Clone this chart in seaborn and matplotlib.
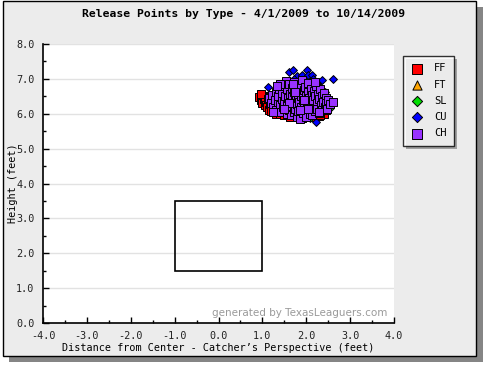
import matplotlib
matplotlib.use("Agg")
import matplotlib.pyplot as plt
import seaborn as sns
from matplotlib.patches import Rectangle
from matplotlib.ticker import MultipleLocator

# release points (feet)
ff_x = [0.93, 0.97, 1.00, 1.03, 1.05, 1.08, 1.10, 1.12, 1.15, 1.18, 1.20, 1.05, 0.98, 1.13,
        1.30, 1.40, 1.50, 1.62, 1.72, 1.80, 1.90, 2.00, 2.10, 2.20, 2.28, 2.35, 2.40, 2.45,
        2.30, 1.55, 1.35, 1.85, 2.15, 1.65, 1.95, 2.10, 2.43, 2.31]
ff_y = [6.48, 6.38, 6.32, 6.42, 6.25, 6.35, 6.18, 6.50, 6.12, 6.28, 6.08, 6.48, 6.56, 6.41,
        6.00, 5.98, 5.95, 5.92, 5.98, 5.95, 5.88, 5.98, 5.90, 6.00, 5.93, 6.05, 5.98, 6.10,
        6.15, 6.08, 6.15, 6.05, 6.05, 6.50, 6.60, 6.45, 6.11, 5.96]

ft_x = [1.84, 1.95]
ft_y = [5.96, 6.00]

sl_x = [2.53, 2.09, 2.47]
sl_y = [6.17, 5.88, 6.25]

cu_x = [1.13, 1.33, 1.48, 1.61, 1.69, 1.78, 1.90, 2.01, 2.05, 2.12, 2.16, 2.24, 2.35, 2.62,
        2.43, 2.45, 2.22, 1.78, 1.93, 1.50, 1.72, 2.08, 1.64, 1.45, 2.30, 1.85, 2.20]
cu_y = [6.76, 6.80, 6.87, 7.21, 7.25, 7.08, 7.11, 7.25, 7.11, 7.11, 6.99, 6.87, 6.97, 6.99,
        6.63, 6.40, 5.77, 6.92, 6.95, 6.82, 7.00, 6.90, 6.95, 6.70, 6.80, 6.98, 6.75]

ch_x = [1.15, 1.20, 1.22, 1.25, 1.28, 1.30, 1.32, 1.35, 1.36, 1.38, 1.40, 1.42, 1.44, 1.45,
        1.47, 1.48, 1.50, 1.52, 1.53, 1.55, 1.56, 1.57, 1.58, 1.60, 1.61, 1.62, 1.63, 1.65,
        1.66, 1.67, 1.68, 1.70, 1.71, 1.72, 1.73, 1.74, 1.75, 1.76, 1.78, 1.79, 1.80, 1.81,
        1.82, 1.84, 1.85, 1.86, 1.87, 1.88, 1.89, 1.90, 1.92, 1.93, 1.94, 1.95, 1.97, 1.98,
        1.99, 2.00, 2.01, 2.03, 2.04, 2.05, 2.07, 2.08, 2.10, 2.11, 2.12, 2.14, 2.15, 2.16,
        2.18, 2.19, 2.21, 2.22, 2.24, 2.25, 2.27, 2.28, 2.30, 2.32, 2.33, 2.35, 2.37, 2.38,
        2.40, 2.42, 2.44, 2.46, 2.48, 2.50, 2.55, 2.60, 1.60, 1.75, 1.95, 2.05, 1.85, 1.70,
        2.20, 1.50, 1.40, 2.30, 1.25, 1.33]
ch_y = [6.45, 6.30, 6.55, 6.20, 6.40, 6.62, 6.10, 6.35, 6.50, 6.72, 6.25, 6.05, 6.42, 6.60,
        6.80, 6.18, 6.33, 6.52, 6.95, 6.00, 6.70, 6.25, 6.45, 6.12, 6.85, 6.38, 6.58, 5.95,
        6.22, 6.48, 6.75, 6.30, 6.05, 6.62, 6.90, 6.40, 6.15, 6.55, 5.90, 6.28, 6.70, 6.45,
        6.08, 6.35, 6.82, 5.85, 6.60, 6.20, 6.50, 6.98, 6.02, 6.40, 6.68, 6.25, 6.78, 6.12,
        6.52, 5.92, 6.35, 6.62, 6.18, 6.88, 6.45, 6.00, 6.30, 6.72, 6.55, 5.95, 6.22, 6.40,
        6.65, 6.08, 6.50, 6.80, 6.30, 6.15, 6.58, 6.02, 6.42, 6.70, 6.25, 6.52, 6.12, 6.35,
        6.60, 6.20, 6.45, 6.32, 6.15, 6.40, 6.28, 6.35, 6.30, 6.62, 6.40, 6.15, 6.10, 6.85,
        6.90, 6.15, 6.85, 6.05, 6.05, 6.80]

# strike zone
zone_x = [-1.0, 1.0]
zone_y = [1.5, 3.5]

W, H = 488, 367
fig = plt.figure(figsize=(W / 100, H / 100), dpi=100, facecolor="white")
mono = "DejaVu Sans Mono"

# grey panel with black border and drop shadow
fig.patches.append(Rectangle((9 / W, 1 - 362 / H), 474 / W, 355 / H, transform=fig.transFigure,
                             facecolor="#858585", edgecolor="none", zorder=-2))
fig.patches.append(Rectangle((3 / W, 1 - 356 / H), 473 / W, 355.5 / H, transform=fig.transFigure,
                             facecolor="#ececec", edgecolor="black", linewidth=1.0, zorder=-1))

ax = fig.add_axes([43 / W, 1 - 323 / H, 351 / W, 279 / H])
ax.set_facecolor("white")

series = [
    ("FF", ff_x, ff_y, "s", "#ff0000", 26),
    ("FT", ft_x, ft_y, "^", "#ffa500", 26),
    ("SL", sl_x, sl_y, "D", "#00dd00", 16),
    ("CU", cu_x, cu_y, "D", "#0000ff", 16),
    ("CH", ch_x, ch_y, "s", "#9933ff", 26),
]
for name, xs, ys, mk, col, sz in series:
    sns.scatterplot(x=xs, y=ys, marker=mk, color=col, s=sz, edgecolor="black",
                    linewidth=0.7, label=name, ax=ax, zorder=3)

ax.add_patch(Rectangle((zone_x[0], zone_y[0]), zone_x[1] - zone_x[0], zone_y[1] - zone_y[0],
                       fill=False, edgecolor="black", linewidth=1.2, zorder=2))

ax.set_xlim(-4, 4)
ax.set_ylim(0, 8)
ax.xaxis.set_major_locator(MultipleLocator(1))
ax.xaxis.set_minor_locator(MultipleLocator(0.5))
ax.yaxis.set_major_locator(MultipleLocator(1))
ax.yaxis.set_minor_locator(MultipleLocator(0.5))
ax.xaxis.set_major_formatter(plt.FormatStrFormatter("%.1f"))
ax.yaxis.set_major_formatter(plt.FormatStrFormatter("%.1f"))
ax.grid(axis="y", which="major", color="#e2e2e2", linewidth=1.0, zorder=0)
ax.set_axisbelow(True)
for side in ["top", "right"]:
    ax.spines[side].set_visible(False)
for side in ["left", "bottom"]:
    ax.spines[side].set_linewidth(1.2)
ax.tick_params(which="major", direction="in", length=4.5, width=1, labelsize=7.3, pad=6)
ax.tick_params(which="minor", direction="in", length=2.5, width=1)
for lab in ax.get_xticklabels() + ax.get_yticklabels():
    lab.set_family(mono)
    lab.set_color("#222222")

ax.set_xlabel("Distance from Center - Catcher\u2019s Perspective (feet)", family=mono,
              fontsize=7.3)
ax.set_ylabel("Height (feet)", family=mono, fontsize=7.3)
ax.xaxis.set_label_coords(0.5, -(348 - 323) / 279)
ax.yaxis.set_label_coords((13 - 43) / 351, 0.5)
ax.xaxis.label.set_va("center")
ax.yaxis.label.set_va("center")
fig.text(0.5, 1 - 14 / H, "Release Points by Type - 4/1/2009 to 10/14/2009", family=mono,
         fontsize=8.2, fontweight="bold", ha="center", va="center")
ax.text(0.98, 0.035, "generated by TexasLeaguers.com", transform=ax.transAxes, ha="right",
        va="center", fontsize=7.5, color="#9a9a9a", zorder=1)

handles, labels = ax.get_legend_handles_labels()
leg = ax.legend(handles, labels, loc="upper left", bbox_to_anchor=(403 / W, 1 - 56 / H),
                bbox_transform=fig.transFigure, frameon=True, fancybox=False, shadow=False,
                prop={"family": mono, "size": 7.5}, markerscale=1.3, labelspacing=0.6,
                handletextpad=1.1, borderpad=0.7, handlelength=1.2, borderaxespad=0)
leg.get_frame().set_edgecolor("black")
leg.get_frame().set_linewidth(1.0)

# small drop shadow behind legend, like the original (below the axes, above the panel)
fig.canvas.draw()
bb = leg.get_window_extent()
fig.patches.append(Rectangle((bb.x0 + 3, bb.y0 - 3), bb.width, bb.height, transform=None,
                             facecolor="#a0a0a0", edgecolor="none", zorder=-0.5))

fig.savefig("out.png", dpi=100, facecolor=fig.get_facecolor())
